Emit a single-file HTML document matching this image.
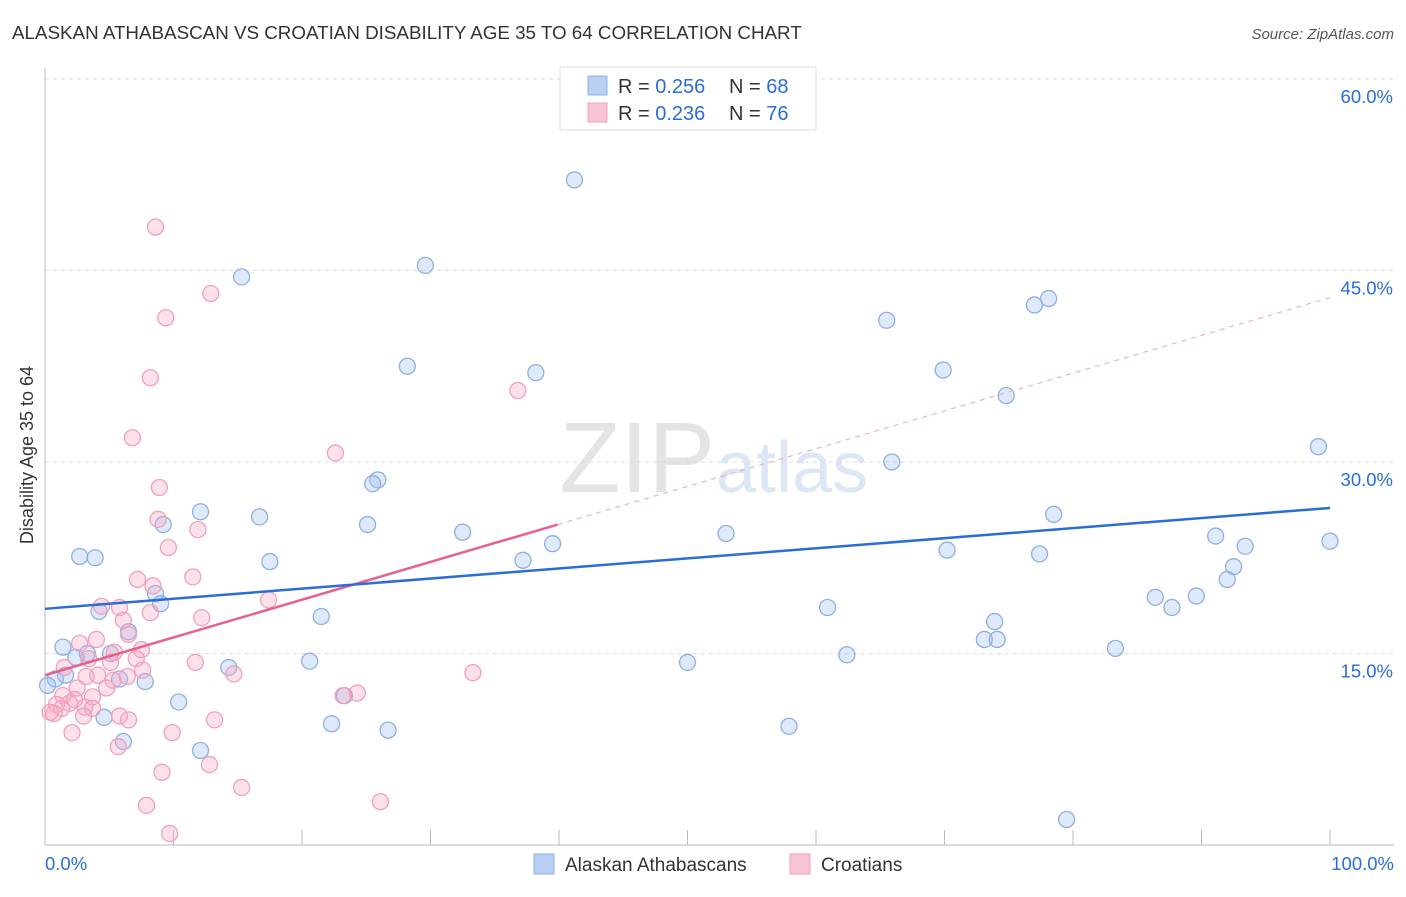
<!DOCTYPE html>
<html><head><meta charset="utf-8"><style>
body{margin:0;background:#fff;font-family:"Liberation Sans",sans-serif}
svg text{font-family:"Liberation Sans",sans-serif}
</style></head><body>
<svg id="chart" width="1406" height="892" viewBox="0 0 1406 892" xmlns="http://www.w3.org/2000/svg">
<text x="12" y="39" font-size="18.8" fill="#333">ALASKAN ATHABASCAN VS CROATIAN DISABILITY AGE 35 TO 64 CORRELATION CHART</text>
<text x="1394" y="39" font-size="15" fill="#555" font-style="italic" text-anchor="end">Source: ZipAtlas.com</text>
<text x="715" y="492" font-size="100" fill="#e4e4e4" font-family="Liberation Serif" text-anchor="end">ZIP</text>
<text x="716" y="492" font-size="72" fill="#dce6f4">atlas</text>
<g id="grid"></g>
<g id="axes"></g>
<g id="marks"></g>
<text transform="translate(33,455) rotate(-90)" font-size="18" fill="#333" text-anchor="middle">Disability Age 35 to 64</text>
<g>
<rect x="560" y="67" width="256" height="63" fill="#fff" stroke="#ddd"/>
<rect x="588" y="76" width="19" height="19" fill="#b8d0f4" stroke="#8fb0e0"/>
<rect x="588" y="103" width="19" height="19" fill="#f8c4d4" stroke="#f0a0bc"/>
<text x="618" y="93" font-size="20" fill="#333">R = <tspan fill="#2a6dd8">0.256</tspan></text>
<text x="729" y="93" font-size="20" fill="#333">N = <tspan fill="#2a6dd8">68</tspan></text>
<text x="618" y="120" font-size="20" fill="#333">R = <tspan fill="#2a6dd8">0.236</tspan></text>
<text x="729" y="120" font-size="20" fill="#333">N = <tspan fill="#2a6dd8">76</tspan></text>
</g>
<g>
<rect x="534" y="854" width="20" height="20" fill="#b8d0f4" stroke="#8fb0e0"/>
<text x="565" y="871" font-size="19" fill="#333">Alaskan Athabascans</text>
<rect x="790" y="854" width="20" height="20" fill="#f8c4d4" stroke="#f0a0bc"/>
<text x="821" y="871" font-size="19" fill="#333">Croatians</text>
</g>
</svg>
<script>
const yTicks=[15,30,45,60];
const yTickLabels=["15.0%","30.0%","45.0%","60.0%"];
const xTickLabels=["0.0%","100.0%"];
const blueX=[41.2,29.6,15.3,65.5,78.1,77.0,28.2,38.2,69.9,74.8,99.1,65.9,25.9,25.5,12.1,16.7,9.2,25.1,78.5,32.5,53.0,91.1,100,39.5,93.4,70.2,2.7,3.9,37.2,77.4,17.5,92.5,92.0,8.6,9.0,86.4,89.6,4.2,87.7,60.9,21.5,6.5,73.9,73.1,74.1,1.4,83.3,5.1,3.3,2.4,62.4,20.6,50.0,14.3,1.6,0.8,5.8,7.8,0.2,10.4,23.3,4.6,22.3,26.7,57.9,6.1,12.1,79.5];
const blueY=[52.1,45.4,44.5,41.1,42.8,42.3,37.5,37.0,37.2,35.2,31.2,30.0,28.6,28.3,26.1,25.7,25.1,25.1,25.9,24.5,24.4,24.2,23.8,23.6,23.4,23.1,22.6,22.5,22.3,22.8,22.2,21.8,20.8,19.7,18.9,19.4,19.5,18.3,18.6,18.6,17.9,16.7,17.5,16.1,16.1,15.5,15.4,15.0,15.0,14.7,14.9,14.4,14.3,13.9,13.3,13.0,13.0,12.8,12.5,11.2,11.7,10.0,9.5,9.0,9.3,8.1,7.4,2.0];
const pinkX=[8.6,12.9,9.4,8.2,36.8,6.8,22.6,8.9,8.8,11.9,9.6,11.5,7.2,8.4,17.4,4.4,5.8,8.2,12.2,6.1,6.5,4.0,2.7,7.5,5.4,3.4,7.1,11.7,5.1,1.5,7.6,14.7,33.3,4.1,3.2,6.4,5.3,2.5,4.8,1.4,24.3,3.7,2.3,23.2,1.9,0.9,3.1,1.3,3.7,0.4,0.7,3.0,5.8,6.5,13.2,2.1,9.9,5.7,12.8,9.1,15.3,26.1,7.9,9.7];
const pinkY=[48.4,43.2,41.3,36.6,35.6,31.9,30.7,28.0,25.5,24.7,23.3,21.0,20.8,20.3,19.2,18.7,18.6,18.2,17.8,17.6,16.5,16.1,15.8,15.3,15.1,14.6,14.6,14.3,14.3,13.9,13.7,13.4,13.5,13.3,13.2,13.2,12.9,12.3,12.3,11.7,11.9,11.6,11.4,11.7,11.1,11.0,10.8,10.7,10.7,10.4,10.3,10.1,10.1,9.8,9.8,8.8,8.8,7.7,6.3,5.7,4.5,3.4,3.1,0.9];
const blueTrend=[18.5,26.4];
const pinkTrend=[13.3,25.1,39.9];
const NS="http://www.w3.org/2000/svg";
const X=v=>45+v*12.85, Y=v=>845-v*12.767;
function mk(tag,attrs,parent){const e=document.createElementNS(NS,tag);for(const k in attrs)e.setAttribute(k,attrs[k]);document.getElementById(parent).appendChild(e);return e;}
yTicks.forEach((t,i)=>{
 const l=mk('line',{x1:45,x2:1394,y1:Y(t),y2:Y(t),stroke:'#ddd','stroke-dasharray':'4,4'},'grid');
 
 
 const tx=mk('text',{x:1393,y:Y(t)+24,'font-size':18.5,fill:'#2a6dd8','text-anchor':'end'},'grid');
 tx.textContent=yTickLabels[i];
 
 
});
let ax=mk('line',{x1:45,x2:45,y1:68,y2:845,stroke:'#bbb'},'axes');

ax=mk('line',{x1:45,x2:1394,y1:845,y2:845,stroke:'#bbb'},'axes');

for(let i=0;i<=10;i++){const t=mk('line',{x1:X(i*10),x2:X(i*10),y1:830,y2:845,stroke:'#bbb'},'axes');
 
 }
[[0,'start',45],[1,'end',1394]].forEach(([i,a,x])=>{const t=mk('text',{x:x,y:870,'font-size':18.5,fill:'#2a6dd8','text-anchor':a},'axes');t.textContent=xTickLabels[i];
 
 });
blueX.forEach((v,i)=>{const c=mk('circle',{cx:X(v),cy:Y(blueY[i]),r:8,fill:'rgba(160,192,238,0.35)',stroke:'#8fb0e0','stroke-width':1.3},'marks');
 
 });
pinkX.forEach((v,i)=>{const c=mk('circle',{cx:X(v),cy:Y(pinkY[i]),r:8,fill:'rgba(246,170,196,0.35)',stroke:'#f0a0bc','stroke-width':1.3},'marks');
 
 });
const ps=(pinkTrend[1]-pinkTrend[0])/pinkTrend[2];
let l=mk('line',{x1:X(pinkTrend[2]),y1:Y(pinkTrend[1]),x2:X(100),y2:Y(pinkTrend[0]+ps*100),stroke:'#eeb0c4','stroke-width':1.2,'stroke-dasharray':'5,5'},'marks');

l=mk('line',{x1:X(0),y1:Y(pinkTrend[0]),x2:X(pinkTrend[2]),y2:Y(pinkTrend[1]),stroke:'#e8608c','stroke-width':2.5},'marks');

l=mk('line',{x1:X(0),y1:Y(blueTrend[0]),x2:X(100),y2:Y(blueTrend[1]),stroke:'#2a6dd8','stroke-width':2.5},'marks');

</script>
</body></html>
